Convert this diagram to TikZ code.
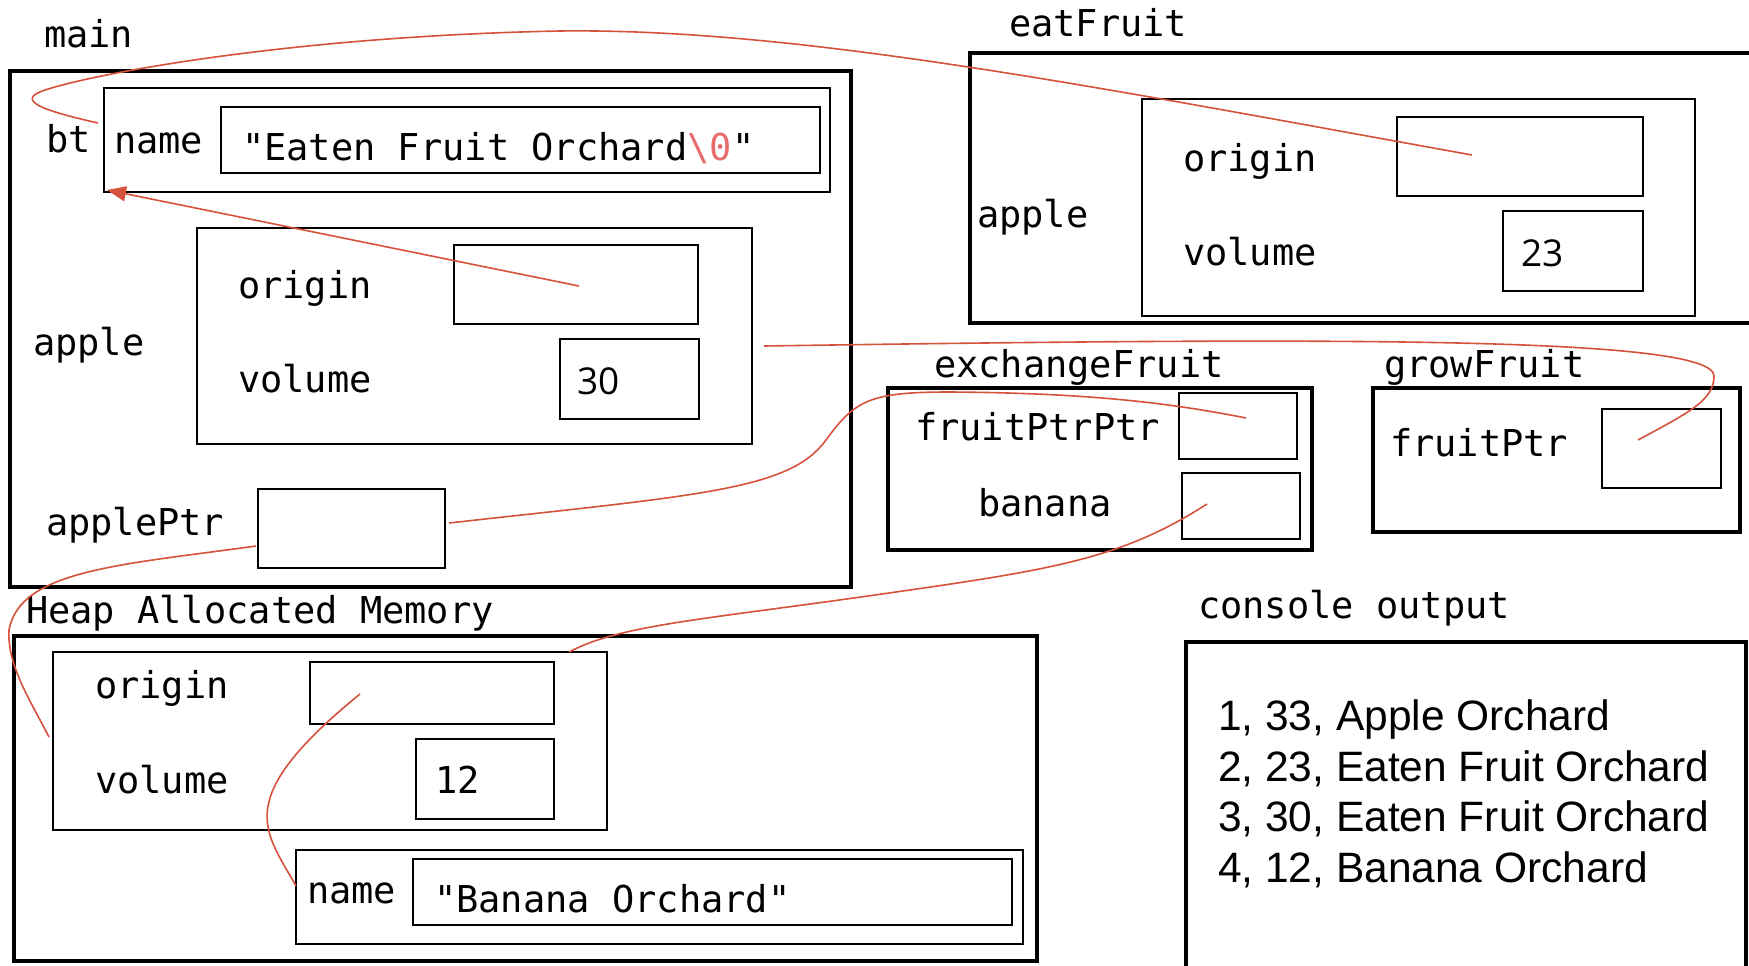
\documentclass[tikz,border=0pt]{standalone}
\usepackage{fontspec}
\usetikzlibrary{arrows.meta}
\newfontfamily\monof{DejaVu Sans Mono}
\newfontfamily\numf{Open Sans}
\newfontfamily\arialf{Liberation Sans}
\definecolor{ptrred}{RGB}{214,82,60}
\definecolor{zerored}{RGB}{232,108,108}
\newcommand\mfont{\monof\fontsize{37}{44}\selectfont}
\newcommand\nfont{\numf\fontsize{37}{44}\selectfont}
\newcommand\cfont{\arialf\fontsize{42.5}{50}\selectfont}
\tikzset{
  frame/.style={draw, line width=4pt, inner sep=0pt, outer sep=0pt, anchor=north west},
  cell/.style={draw, line width=2pt, inner sep=0pt, outer sep=0pt, anchor=north west},
  wrap/.style={draw, line width=1.5pt, inner sep=0pt, outer sep=0pt, anchor=north west},
  lbl/.style={anchor=base west, inner sep=0pt, outer sep=0pt, font=\mfont},
  num/.style={anchor=base west, inner sep=0pt, outer sep=0pt, font=\nfont},
  con/.style={anchor=base west, inner sep=0pt, outer sep=0pt, font=\cfont},
  ptr/.style={draw=ptrred, line width=1.6pt},
}
\begin{document}
\begin{tikzpicture}[x=1pt,y=-1pt]
\useasboundingbox (0,0) rectangle (1749,966);
\clip (0,0) rectangle (1749,966);
\fill[white] (0,0) rectangle (1749,966);

% ---------- main ----------
\node[lbl] (tmain) at (44,48) {main};
\node[frame, minimum width=841pt, minimum height=516pt] (main) at (10,71) {};
\node[lbl] (tbt) at (46,152) {bt};
\node[wrap, minimum width=726pt, minimum height=104pt] (btname) at (104,88) {};
\node[lbl] (tname1) at (114,153) {name};
\node[cell, minimum width=599pt, minimum height=66pt] (btstr) at (221,107) {};
\node[lbl] (tstr1) at (242,160) {"Eaten Fruit Orchard\textcolor{zerored}{\textbackslash 0}"};
\node[lbl] (tapple1) at (33,355) {apple};
\node[cell, minimum width=555pt, minimum height=216pt] (mapple) at (197,228) {};
\node[lbl] (torig1) at (238,298) {origin};
\node[cell, minimum width=244pt, minimum height=79pt] (morig) at (454,245) {};
\node[lbl] (tvol1) at (238,392) {volume};
\node[cell, minimum width=139pt, minimum height=80pt] (mvol) at (560,339) {};
\node[num] (n30) at (577,394) {30};
\node[lbl] (taptr) at (46,535) {applePtr};
\node[cell, minimum width=187pt, minimum height=79pt] (aptr) at (258,489) {};

% ---------- eatFruit ----------
\node[lbl] (teat) at (1009,37) {eatFruit};
\node[frame, minimum width=790pt, minimum height=270pt] (eat) at (970,53) {};
\node[lbl] (tapple2) at (977,227) {apple};
\node[cell, minimum width=553pt, minimum height=217pt] (eapple) at (1142,99) {};
\node[lbl] (torig2) at (1183,171) {origin};
\node[cell, minimum width=246pt, minimum height=79pt] (eorig) at (1397,117) {};
\node[lbl] (tvol2) at (1183,265) {volume};
\node[cell, minimum width=140pt, minimum height=80pt] (evol) at (1503,211) {};
\node[num] (n23) at (1521,266) {23};

% ---------- exchangeFruit ----------
\node[lbl] (texch) at (934,377) {exchangeFruit};
\node[frame, minimum width=424pt, minimum height=162pt] (exch) at (888,388) {};
\node[lbl] (tfpp) at (915,440) {fruitPtrPtr};
\node[cell, minimum width=118pt, minimum height=66pt] (fpp) at (1179,393) {};
\node[lbl] (tban) at (978,516) {banana};
\node[cell, minimum width=118pt, minimum height=66pt] (ban) at (1182,473) {};

% ---------- growFruit ----------
\node[lbl] (tgrow) at (1384,377) {growFruit};
\node[frame, minimum width=367pt, minimum height=144pt] (grow) at (1373,388) {};
\node[lbl] (tfp) at (1390,456) {fruitPtr};
\node[cell, minimum width=119pt, minimum height=79pt] (fp) at (1602,409) {};

% ---------- heap ----------
\node[lbl] (theap) at (26,623) {Heap Allocated Memory};
\node[frame, minimum width=1023pt, minimum height=325pt] (heap) at (14,636) {};
\node[cell, minimum width=554pt, minimum height=178pt] (hstruct) at (53,652) {};
\node[lbl] (torig3) at (95,698) {origin};
\node[cell, minimum width=244pt, minimum height=62pt] (horig) at (310,662) {};
\node[lbl] (tvol3) at (95,793) {volume};
\node[cell, minimum width=138pt, minimum height=80pt] (hvol) at (416,739) {};
\node[lbl] (n12) at (435,793) {12};
\node[wrap, minimum width=727pt, minimum height=94pt] (hname) at (296,850) {};
\node[lbl] (tname2) at (307,903) {name};
\node[cell, minimum width=599pt, minimum height=66pt] (hstr) at (413,859) {};
\node[lbl] (tstr2) at (434,912) {"Banana Orchard"};

% ---------- console ----------
\node[lbl] (tcons) at (1198,618) {console output};
\node[frame, minimum width=560pt, minimum height=348pt] (cons) at (1186,642) {};
\node[con] (c1) at (1218,730) {1, 33, Apple Orchard};
\node[con] (c2) at (1218,781) {2, 23, Eaten Fruit Orchard};
\node[con] (c3) at (1218,831) {3, 30, Eaten Fruit Orchard};
\node[con] (c4) at (1218,882) {4, 12, Banana Orchard};

% ---------- pointer ends ----------
\coordinate (pMorig) at (579,286);
\coordinate (pEorig) at (1472,155);
\coordinate (pBt) at (98,123);
\coordinate (pMapple) at (764,346);
\coordinate (pFp) at (1638,440);
\coordinate (pAptrR) at (449,523);
\coordinate (pFpp) at (1246,418);
\coordinate (pAptrL) at (256,546);
\coordinate (pHstructL) at (49,737);
\coordinate (pBan) at (1207,504);
\coordinate (pHstructT) at (569,652);
\coordinate (pHorig) at (360,694);
\coordinate (pHname) at (296,886);

% ---------- pointers ----------
\draw[ptr, -{Triangle[length=19pt,width=15pt]}] (pMorig) -- ([xshift=3pt,yshift=2pt]btname.south west);
\draw[ptr] (pEorig) .. controls (1100,88) and (800,28) .. (560,31)
  .. controls (300,36) and (100,72) .. (45,90)
  .. controls (15,100) and (40,110) .. (pBt);
\draw[ptr] (pMapple) .. controls (1300,338) and (1714,335) .. (1714,376)
  .. controls (1714,400) and (1690,412) .. (pFp);
\draw[ptr] (pAptrR) .. controls (700,495) and (790,490) .. (826,440)
  .. controls (855,400) and (870,392) .. (950,392)
  .. controls (1100,393) and (1180,405) .. (pFpp);
\draw[ptr] (pAptrL) .. controls (120,565) and (20,570) .. (9,630)
  .. controls (7,665) and (30,700) .. (pHstructL);
\draw[ptr] (pBan) .. controls (1120,560) and (1050,570) .. (875,595)
  .. controls (700,620) and (620,625) .. (pHstructT);
\draw[ptr] (pHorig) .. controls (230,800) and (265,830) .. (pHname);
\end{tikzpicture}
\end{document}
